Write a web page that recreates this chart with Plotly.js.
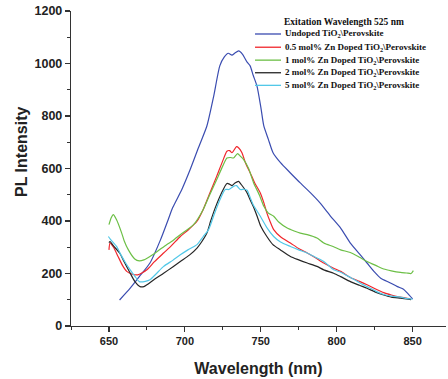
<!DOCTYPE html>
<html>
<head>
<meta charset="utf-8">
<script src="https://cdn.plot.ly/plotly-3.0.1.min.js"></script>
<style>html,body{margin:0;padding:0;background:#fff;}#chart{width:448px;height:379px;}</style>
</head>
<body>
<div id="chart"></div>
<script>
// Series names
const seriesNames = [
  "Undoped TiO<sub>2</sub>\\Perovskite",
  "0.5 mol% Zn Doped TiO<sub>2</sub>\\Perovskite",
  "1 mol% Zn Doped TiO<sub>2</sub>\\Perovskite",
  "2 mol% Zn Doped TiO<sub>2</sub>\\Perovskite",
  "5 mol% Zn Doped TiO<sub>2</sub>\\Perovskite"
];
const legendTitle = "Exitation Wavelength 525 nm";
const xTitle = "Wavelength (nm)";
const yTitle = "PL Intensity";
const seriesColors = ["#3a4cb0", "#f0262c", "#6cbf46", "#262626", "#52c8e8"];

// Undoped
const undopedX = [657,664,670,677,684,689,692,698,703.5,709,714.5,719,723,726,728.6,731,733,735.4,738,741,743,745,747.5,750,752,755,758,763,769.5,776,782.8,789,796,802.6,809,815,820,825,829,835,840,844,846.6,850];
const undopedY = [99,144,188,240,329,405,451,520,596,680,762,876,991,1025,1039,1032,1040,1048,1035,1005,991,955,914,835,762,711,661,622,583,545,507,469,418,373,316,275,240,205,182,165,150,140,125,103];

// 0.5 mol%
const zn05X = [650,650.7,653,656,659,661.7,665,669,672,675,680,686,691,697,702,708,712,716,721,725,727.7,729.5,731,734,735.5,737.6,740,743,746,749.7,752,754,756,758.5,763,769.5,775,780.6,786,791.5,798,802.6,809,815,820,826,831,836,840,845,849];
const zn05Y = [290,316,300,265,230,208,198,195,203,214,245,278,305,341,365,399,443,500,571,630,666,668,660,683,678,660,620,584,545,507,470,431,400,367,340,316,295,278,260,240,220,208,185,170,157,140,127,118,112,107,102];

// 1 mol%
const zn1X = [650,651.5,652.8,655,658.4,660,662.8,667,670,673,677,682,688,692,697,701,705.7,712,716,721,725,727.7,730,732,734.7,736.5,738.7,742,745.3,749,752,755,758.5,762,767.4,772,776,780.6,787,791.5,798,802.6,809,815,820,826,831,836,842,846,849,850.5];
const zn1Y = [386,412,424,405,354,325,290,255,248,252,265,285,310,325,348,365,386,443,495,558,610,640,642,640,657,647,634,600,545,500,456,430,418,395,373,362,354,348,335,316,302,290,280,262,246,230,217,210,204,202,200,211];

// 2 mol%
const zn2X = [650,650.7,653,657,660,664,667,670.5,673,675,680,686,692,697,703,708,711,714.5,717,720,724,727.7,729.5,731,733,735.4,737,741,743,745,747.6,750,754,758,763,769.5,775,780.6,787,791.5,798,802.6,809,815,820,826,831,836,842,846,849];
const zn2Y = [318,322,305,278,245,201,170,150,150,157,178,201,225,246,270,297,320,354,400,450,505,543,540,535,545,551,540,507,481,456,418,380,341,310,290,265,252,240,227,214,201,188,169,155,144,128,118,110,106,103,100];

// 5 mol%
const zn5X = [649.6,651,655,658,661,664,667,670,674,677,681,686,692,697,702,708,712,715.6,719,723,726.6,729,732,734,736.5,739,741,743,745,749.7,754,758.5,763,769.5,775,780.6,786,791.5,798,802.6,809,815,820,826,831,836,842,846,850];
const zn5Y = [341,330,303,270,240,214,190,169,170,176,198,227,250,271,290,310,340,367,420,480,520,520,532,535,520,521,517,490,462,418,375,341,320,303,290,278,262,246,214,205,185,165,150,132,120,114,110,105,102];

// Axis ticks
const xTickVals = [650,700,750,800,850];
const yTickVals = [0,200,400,600,800,1000,1200];

const xs = [undopedX, zn05X, zn1X, zn2X, zn5X];
const ys = [undopedY, zn05Y, zn1Y, zn2Y, zn5Y];

const traces = xs.map((x, i) => ({
  x: x, y: ys[i], type: 'scatter', mode: 'lines', name: seriesNames[i],
  line: {color: seriesColors[i], width: 1.2, shape: 'spline', smoothing: 0.6}, showlegend: false
}));

// Manual legend (compact spacing as in the reference)
const legX0 = 0.4907, legX1 = 0.56, legTextX = 0.5653;
const legY = [0.927, 0.885, 0.844, 0.804, 0.764];
const shapes = [];
const annotations = [{
  xref: 'paper', yref: 'paper', x: 0.562, y: 0.965, xanchor: 'left', yanchor: 'middle',
  text: '<b>' + legendTitle + '</b>', showarrow: false,
  font: {family: 'Liberation Serif', size: 9.5, color: '#111'}
}, {
  xref: 'paper', yref: 'paper', x: -0.1307, y: 0.5524, xanchor: 'center', yanchor: 'middle',
  textangle: -90, text: '<b>' + yTitle + '</b>', showarrow: false,
  font: {family: 'Liberation Sans', size: 16, color: '#222'}
}];
seriesNames.forEach((n, i) => {
  shapes.push({type: 'line', xref: 'paper', yref: 'paper', x0: legX0, x1: legX1, y0: legY[i], y1: legY[i],
    line: {color: seriesColors[i], width: 1.3}});
  annotations.push({xref: 'paper', yref: 'paper', x: legTextX, y: legY[i], xanchor: 'left', yanchor: 'middle',
    text: '<b>' + n + '</b>', showarrow: false,
    font: {family: 'Liberation Serif', size: 9, color: '#111'}});
});

const axisCommon = {
  showline: true, linecolor: '#333', linewidth: 1.2, ticks: 'outside', ticklen: 5, tickwidth: 1.1,
  tickcolor: '#333', showgrid: false, zeroline: false, mirror: false
};

const layout = {
  width: 448, height: 379,
  margin: {l: 71, r: 2, t: 11, b: 53},
  paper_bgcolor: '#fff', plot_bgcolor: '#fff',
  font: {family: 'Liberation Sans', color: '#222'},
  xaxis: Object.assign({}, axisCommon, {
    range: [625, 872], tickvals: xTickVals, ticktext: xTickVals.map(v => '<b>' + v + '</b>'),
    tickfont: {size: 11, family: 'Liberation Sans', color: '#222'},
    minor: {ticks: 'outside', ticklen: 3, dtick: 25, tick0: 625, tickcolor: '#333', tickwidth: 1},
    title: {text: '<b>' + xTitle + '</b>', font: {size: 16, family: 'Liberation Sans', color: '#222'}, standoff: 16}
  }),
  yaxis: Object.assign({}, axisCommon, {
    range: [0, 1200], tickvals: yTickVals, ticktext: yTickVals.map(v => '<b>' + v + '</b>'),
    tickfont: {size: 12.5, family: 'Liberation Sans', color: '#222'},
    minor: {ticks: 'outside', ticklen: 3, dtick: 100, tick0: 0, tickcolor: '#333', tickwidth: 1}
  }),
  shapes: shapes,
  annotations: annotations
};

Plotly.newPlot('chart', traces, layout, {staticPlot: true, displayModeBar: false});
</script>
</body>
</html>
